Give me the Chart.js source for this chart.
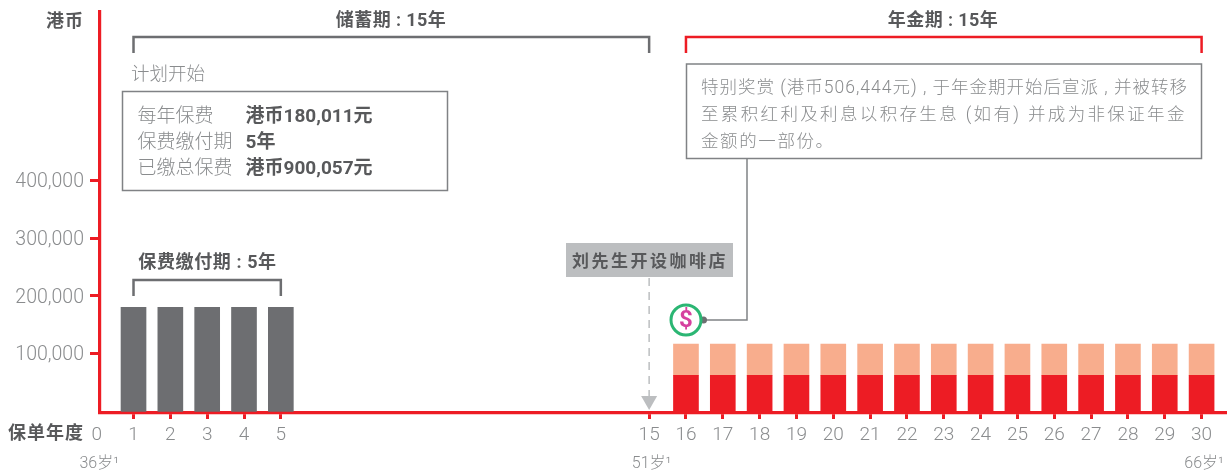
<!DOCTYPE html>
<html><head><meta charset="utf-8">
<style>html,body{margin:0;padding:0;background:#fff}canvas{display:block}</style>
<script src="https://cdn.jsdelivr.net/npm/chart.js@4"></script>
</head><body><canvas id="c" width="1227" height="475"></canvas>
<script>
const premiumYears=[1,2,3,4,5];
const premiumValues=[180011,180011,180011,180011,180011];
const annuityYears=[16,17,18,19,20,21,22,23,24,25,26,27,28,29,30];
const annuityBase=[62500,62500,62500,62500,62500,62500,62500,62500,62500,62500,62500,62500,62500,62500,62500];
const annuityBonus=[54000,54000,54000,54000,54000,54000,54000,54000,54000,54000,54000,54000,54000,54000,54000];
const xTicks=[0,1,2,3,4,5,15,16,17,18,19,20,21,22,23,24,25,26,27,28,29,30];
const yTicks=[100000,200000,300000,400000];
const ageMarks=[[0,'36岁¹'],[15,'51岁¹'],[30,'66岁¹']];
const noteLines=['特别奖赏 (港币506,444元) , 于年金期开始后宣派 , 并被转移','至累积红利及利息以积存生息 (如有) 并成为非保证年金','金额的一部份。'];
const noteSpacing=[1.0,2.35,1.6];
const planRows=[['每年保费','港币180,011元'],['保费缴付期','5年'],['已缴总保费','港币900,057元']];

const FONT='Roboto,"Noto Sans CJK SC",sans-serif';
const RED='#ed1c24',GREY='#6d6e71',DARK='#58595b',TXT='#8a8c8e',BOX='#808285';

function text(ctx,s,x,y,o={}){
  ctx.save();
  ctx.font=(o.w||300)+' '+(o.s||18)+'px '+FONT;
  ctx.fillStyle=o.c||TXT;ctx.textAlign=o.a||'left';ctx.textBaseline='middle';
  ctx.letterSpacing=(o.ls||0)+'px';
  ctx.fillText(s,x,y+3);ctx.restore();
}
function bracket(ctx,x1,x2,yTop,yBot,col){
  ctx.save();ctx.strokeStyle=col;ctx.lineWidth=2.5;ctx.lineJoin='miter';
  ctx.beginPath();ctx.moveTo(x1,yBot);ctx.lineTo(x1,yTop);ctx.lineTo(x2,yTop);ctx.lineTo(x2,yBot);ctx.stroke();ctx.restore();
}
function box(ctx,x,y,w,h){ctx.save();ctx.strokeStyle=BOX;ctx.lineWidth=1.5;ctx.strokeRect(x,y,w,h);ctx.restore();}

const overlay={id:'overlay',afterDraw(chart){
  const ctx=chart.ctx,X=v=>chart.scales.x.getPixelForValue(v);
  text(ctx,'港币',84,19.5,{w:700,a:'right',c:DARK,s:18,ls:1});
  text(ctx,'保单年度',84,431,{w:700,a:'right',c:DARK,s:18,ls:1});
  text(ctx,'储蓄期 : 15年',391,18.5,{w:700,a:'center',c:DARK,s:18,ls:.4});
  text(ctx,'年金期 : 15年',943,18.5,{w:700,a:'center',c:DARK,s:18,ls:.4});
  bracket(ctx,X(1),X(15),37,53,GREY);
  bracket(ctx,X(16),X(30),37,53,RED);
  text(ctx,'计划开始',131,72,{s:18.5});
  box(ctx,122.5,91.5,325,99);
  planRows.forEach((r,i)=>{const y=114+i*26;
    text(ctx,r[0],137.5,y,{s:19});
    text(ctx,r[1],245.5,y,{w:700,c:DARK,s:19});});
  text(ctx,'保费缴付期 : 5年',207.5,260,{w:700,a:'center',c:DARK,s:18,ls:.6});
  bracket(ctx,X(1),X(5),280,296,GREY);
  ageMarks.forEach(m=>text(ctx,m[1],X(m[0])+2.5,460.5,{a:'center',s:16}));
  box(ctx,686.5,64,515,94.5);
  noteLines.forEach((l,i)=>text(ctx,l,701,85.5+i*27,{s:17.5,ls:noteSpacing[i]}));
  ctx.save();ctx.strokeStyle=BOX;ctx.lineWidth=1.5;ctx.beginPath();
  ctx.moveTo(747,159);ctx.lineTo(747,320);ctx.lineTo(703,320);ctx.stroke();
  ctx.fillStyle=GREY;ctx.beginPath();ctx.arc(703.5,320,3.5,0,Math.PI*2);ctx.fill();
  ctx.strokeStyle='#2bb673';ctx.lineWidth=3;ctx.beginPath();ctx.arc(686,320,15,0,Math.PI*2);ctx.stroke();ctx.restore();
  text(ctx,'$',686,317.5,{w:700,a:'center',c:'#d6409f',s:24});
  ctx.save();ctx.fillStyle='#bcbec0';ctx.fillRect(566,243,167,34);
  ctx.strokeStyle='#bcbec0';ctx.lineWidth=1.5;ctx.setLineDash([8,6]);
  ctx.beginPath();ctx.moveTo(X(15),278);ctx.lineTo(X(15),397);ctx.stroke();ctx.setLineDash([]);
  ctx.beginPath();ctx.moveTo(X(15)-8,396);ctx.lineTo(X(15)+8,396);ctx.lineTo(X(15),410);ctx.closePath();ctx.fill();ctx.restore();
  text(ctx,'刘先生开设咖啡店',572,259.5,{w:700,c:DARK,s:17,ls:2.5});
}};

new Chart(document.getElementById('c'),{
  type:'bar',
  data:{datasets:[
    {label:'保费',data:premiumYears.map((x,i)=>({x,y:premiumValues[i]})),backgroundColor:GREY,barThickness:25,stack:'a'},
    {label:'年金',data:annuityYears.map((x,i)=>({x,y:annuityBase[i]})),backgroundColor:RED,barThickness:25,stack:'a'},
    {label:'奖赏',data:annuityYears.map((x,i)=>({x,y:annuityBonus[i]})),backgroundColor:'#f8ad8d',barThickness:25,stack:'a'}
  ]},
  plugins:[overlay],
  options:{
    responsive:false,animation:false,devicePixelRatio:1,
    layout:{padding:{top:12,left:0,right:0,bottom:0}},
    plugins:{legend:{display:false},tooltip:{enabled:false}},
    scales:{
      x:{type:'linear',stacked:true,offset:false,min:0.09,max:30.69,
        afterBuildTicks:s=>{s.ticks=xTicks.map(value=>({value}));},
        afterFit:s=>{s.height=62;s.paddingLeft=0;s.paddingRight=0;},
        border:{display:true,color:RED,width:3.2},
        grid:{offset:false,drawOnChartArea:false,drawTicks:true,tickLength:6,tickWidth:3,
          tickColor:c=>c.tick&&c.tick.value===0?'rgba(0,0,0,0)':RED},
        ticks:{autoSkip:false,maxRotation:0,padding:5,color:TXT,font:{family:FONT,size:19,weight:'300'},callback:v=>String(v)}
      },
      y:{type:'linear',stacked:true,min:-2946,max:692000,
        afterBuildTicks:s=>{s.ticks=yTicks.map(value=>({value}));},
        afterFit:s=>{s.width=100;s.paddingTop=0;s.paddingBottom=0;},
        border:{display:true,color:RED,width:3.2},
        grid:{drawOnChartArea:false,drawTicks:true,tickLength:10,tickWidth:3,tickColor:RED},
        ticks:{padding:6,color:TXT,font:{family:FONT,size:19.5,weight:'300',lineHeight:'4px'},callback:v=>['',v.toLocaleString('en-US')]}
      }
    }
  }
});
</script></body></html>
